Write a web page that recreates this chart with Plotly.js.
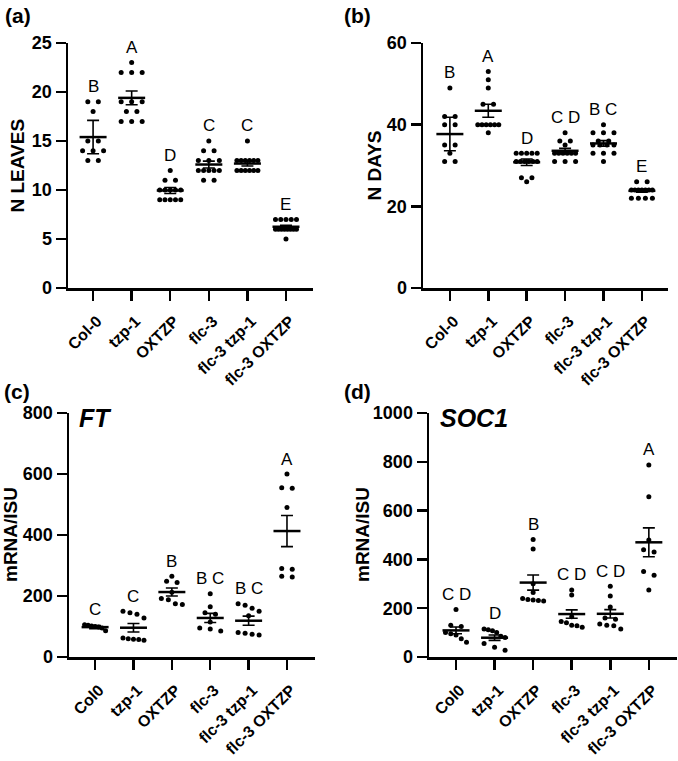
<!DOCTYPE html>
<html>
<head>
<meta charset="utf-8">
<script src="https://cdn.plot.ly/plotly-3.0.1.min.js"></script>
<style>
  html, body { margin: 0; padding: 0; background: #fff; }
  #chart { width: 678px; height: 761px; }
</style>
</head>
<body>
<div id="chart"></div>
<script>
// Genotype labels
const genotypesAB = ['Col-0', 'tzp-1', 'OXTZP', 'flc-3', 'flc-3 tzp-1', 'flc-3 OXTZP'];
const genotypesCD = ['Col0', 'tzp-1', 'OXTZP', 'flc-3', 'flc-3 tzp-1', 'flc-3 OXTZP'];

// (a) rosette leaf number at bolting
const leavesCol0 = [19, 19, 18, 15, 15, 14, 14, 14, 13, 13];
const leavesTzp1 = [23, 22, 22, 22, 19, 19, 19, 18, 18, 17, 17, 17];
const leavesOXTZP = [12, 11, 11, 10, 10, 10, 10, 10, 9, 9, 9, 9, 9];
const leavesFlc3 = [15, 14, 14, 13, 13, 13, 12, 12, 12, 12, 12, 11, 11];
const leavesFlc3Tzp1 = [15, 13, 13, 13, 13, 13, 13, 12, 12, 12, 12, 12, 12];
const leavesFlc3OXTZP = [7, 7, 7, 7, 7, 6, 6, 6, 6, 6, 6, 6, 6, 5];
const leavesMean = [15.4, 19.4, 9.95, 12.6, 12.7, 6.25];
const leavesErr = [1.7, 0.7, 0.3, 0.35, 0.25, 0.15];
const lettersLeaves = ['B', 'A', 'D', 'C', 'C', 'E'];

// (b) days to bolting
const daysCol0 = [49, 42, 42, 40, 40, 35, 35, 33, 31, 31];
const daysTzp1 = [53, 51, 49, 45, 45, 40, 40, 40, 40, 40, 40, 38];
const daysOXTZP = [33, 33, 33, 33, 33, 31, 31, 31, 31, 31, 31, 27, 27, 26];
const daysFlc3 = [38, 36, 36, 35, 33, 33, 33, 33, 33, 33, 31, 31, 31];
const daysFlc3Tzp1 = [40, 38, 38, 38, 36, 36, 35, 35, 35, 35, 33, 33, 33, 31];
const daysFlc3OXTZP = [26, 26, 24, 24, 24, 24, 24, 24, 24, 22, 22, 22, 22];
const daysMean = [37.7, 43.4, 30.8, 33.6, 35.4, 23.8];
const daysErr = [4.1, 1.6, 0.8, 0.6, 0.7, 0.35];
const lettersDays = ['B', 'A', 'D', 'C D', 'B C', 'E'];

// (c) FT transcript level
const ftCol0 = [106, 104, 102, 100, 98, 95, 86];
const ftTzp1 = [150, 145, 140, 128, 62, 60, 58, 57, 55];
const ftOXTZP = [265, 248, 244, 212, 192, 188, 175, 172];
const ftFlc3 = [207, 165, 145, 140, 115, 95, 92, 85];
const ftFlc3Tzp1 = [175, 170, 160, 150, 135, 80, 78, 75, 72];
const ftFlc3OXTZP = [600, 555, 553, 490, 290, 288, 265, 262];
const ftMean = [98, 96, 213, 128, 119, 413];
const ftErr = [5, 14, 13, 15, 15, 51];
const lettersFT = ['C', 'C', 'B', 'B C', 'B C', 'A'];

// (d) SOC1 transcript level
const socCol0 = [195, 130, 125, 100, 95, 90, 75, 60];
const socTzp1 = [115, 112, 108, 100, 85, 80, 55, 40, 28];
const socOXTZP = [482, 443, 300, 264, 240, 236, 234, 232, 230];
const socFlc3 = [275, 254, 165, 145, 140, 130, 128, 122];
const socFlc3Tzp1 = [290, 250, 205, 160, 155, 135, 130, 128, 115];
const socFlc3OXTZP = [787, 657, 480, 440, 430, 350, 335, 275];
const socMean = [109, 79, 305, 176, 177, 470];
const socErr = [14, 11, 31, 17, 17, 59];
const lettersSOC1 = ['C D', 'D', 'B', 'C D', 'C D', 'A'];

// ---------------------------------------------------------------------------
const W = 678, H = 761;
const FONT = 'Liberation Sans, Arial, Helvetica, sans-serif';
const bold = s => '<b>' + s + '</b>';

const panels = [
  { tag: '(a)', groups: [leavesCol0, leavesTzp1, leavesOXTZP, leavesFlc3, leavesFlc3Tzp1, leavesFlc3OXTZP],
    mean: leavesMean, err: leavesErr, letters: lettersLeaves, cats: genotypesAB,
    ytitle: 'N LEAVES', gene: null,
    box: { x0: 68, x1: 313, y0: 43, y1: 288 }, xr: [-0.65, 5.70], yr: [0, 25], dtick: 5,
    titleX: 17, tagX: 3, tagY: 16 },
  { tag: '(b)', groups: [daysCol0, daysTzp1, daysOXTZP, daysFlc3, daysFlc3Tzp1, daysFlc3OXTZP],
    mean: daysMean, err: daysErr, letters: lettersDays, cats: genotypesAB,
    ytitle: 'N DAYS', gene: null,
    box: { x0: 423, x1: 668, y0: 43, y1: 288 }, xr: [-0.70, 5.68], yr: [0, 60], dtick: 20,
    titleX: 374, tagX: 342, tagY: 16 },
  { tag: '(c)', groups: [ftCol0, ftTzp1, ftOXTZP, ftFlc3, ftFlc3Tzp1, ftFlc3OXTZP],
    mean: ftMean, err: ftErr, letters: lettersFT, cats: genotypesCD,
    ytitle: 'mRNA/ISU', gene: 'FT',
    box: { x0: 69, x1: 315, y0: 413, y1: 657 }, xr: [-0.68, 5.73], yr: [0, 800], dtick: 200,
    titleX: 10, tagX: 2, tagY: 391, geneX: 77 },
  { tag: '(d)', groups: [socCol0, socTzp1, socOXTZP, socFlc3, socFlc3Tzp1, socFlc3OXTZP],
    mean: socMean, err: socErr, letters: lettersSOC1, cats: genotypesCD,
    ytitle: 'mRNA/ISU', gene: 'SOC1',
    box: { x0: 429, x1: 677, y0: 413, y1: 657 }, xr: [-0.70, 5.73], yr: [0, 1000], dtick: 200,
    titleX: 362, tagX: 342, tagY: 391, geneX: 438 }
];

const px2x = px => px / W;
const py2y = py => 1 - py / H;

// Spread points that share (nearly) the same height side by side, column style
function swarm(vals, center, pxPerUnitY, pxPerCat) {
  const order = vals.map((v, i) => i).sort((a, b) => vals[b] - vals[a]);
  const clusters = [];
  let cur = [];
  order.forEach(i => {
    if (cur.length && (vals[cur[cur.length - 1]] - vals[i]) * pxPerUnitY > 4) {
      clusters.push(cur); cur = [];
    }
    cur.push(i);
  });
  if (cur.length) clusters.push(cur);
  const xs = new Array(vals.length);
  clusters.forEach(cl => {
    const k = cl.length;
    const step = k > 1 ? Math.min(10.5, 21 / (k - 1)) : 0;
    cl.forEach((i, j) => { xs[i] = center + ((j - (k - 1) / 2) * step) / pxPerCat; });
  });
  return xs;
}

const traces = [];
const layout = {
  width: W, height: H,
  margin: { l: 0, r: 0, t: 0, b: 0 },
  paper_bgcolor: '#fff', plot_bgcolor: 'rgba(0,0,0,0)',
  showlegend: false,
  font: { family: FONT, color: '#000' },
  annotations: []
};

panels.forEach((p, n) => {
  const k = n === 0 ? '' : String(n + 1);
  const xa = 'x' + k, ya = 'y' + k;
  const pxPerCat = (p.box.x1 - p.box.x0) / (p.xr[1] - p.xr[0]);
  const pxPerUnitY = (p.box.y1 - p.box.y0) / (p.yr[1] - p.yr[0]);

  // individual plants / replicates
  const dx = [], dy = [];
  p.groups.forEach((vals, g) => {
    const xs = swarm(vals, g, pxPerUnitY, pxPerCat);
    vals.forEach((v, i) => { dx.push(xs[i]); dy.push(v); });
  });
  traces.push({
    type: 'scatter', mode: 'markers', x: dx, y: dy, xaxis: xa, yaxis: ya,
    marker: { color: '#000', size: 5, line: { width: 0 } }, hoverinfo: 'skip', cliponaxis: false
  });

  // mean lines
  const mx = [], my = [];
  const half = 13.5 / pxPerCat;
  p.mean.forEach((m, g) => { mx.push(g - half, g + half, null); my.push(m, m, null); });
  traces.push({
    type: 'scatter', mode: 'lines', x: mx, y: my, xaxis: xa, yaxis: ya,
    line: { color: '#000', width: 2.5 }, hoverinfo: 'skip'
  });

  // error bars around the mean
  traces.push({
    type: 'scatter', mode: 'markers', x: p.mean.map((m, g) => g), y: p.mean, xaxis: xa, yaxis: ya,
    marker: { color: 'rgba(0,0,0,0)', size: 1 },
    error_y: { type: 'data', array: p.err, visible: true, color: '#000', thickness: 1.6, width: 6 },
    hoverinfo: 'skip'
  });

  const yticks = [];
  for (let v = p.yr[0]; v <= p.yr[1] + 1e-9; v += p.dtick) yticks.push(v);

  layout['xaxis' + k] = {
    domain: [px2x(p.box.x0), px2x(p.box.x1)], range: p.xr, anchor: ya,
    tickmode: 'array', tickvals: p.cats.map((c, i) => i), ticktext: p.cats.map(bold), tickangle: -45,
    ticklabelstandoff: 5, ticklabelshift: 4,
    showline: true, linecolor: '#000', linewidth: 2.5, mirror: false,
    ticks: 'outside', ticklen: 10, tickwidth: 2.5, tickcolor: '#000',
    showgrid: false, zeroline: false, automargin: false, fixedrange: true,
    tickfont: { family: FONT, size: 16, color: '#000' }
  };
  layout['yaxis' + k] = {
    domain: [py2y(p.box.y1), py2y(p.box.y0)], range: p.yr, anchor: xa,
    tickmode: 'array', tickvals: yticks, ticktext: yticks.map(v => bold(String(v))),
    showline: true, linecolor: '#000', linewidth: 2.5,
    ticks: 'outside', ticklen: 10, tickwidth: 2.5, tickcolor: '#000',
    showgrid: false, zeroline: false, automargin: false, fixedrange: true,
    tickfont: { family: FONT, size: 18, color: '#000' }
  };

  // significance letters above each group
  p.letters.forEach((t, g) => {
    layout.annotations.push({
      xref: xa, yref: ya, x: g, y: Math.max(...p.groups[g]), yshift: 15,
      text: t, showarrow: false, xanchor: 'center', yanchor: 'middle',
      font: { family: FONT, size: 17, color: '#000' }
    });
  });

  // axis title
  layout.annotations.push({
    xref: 'paper', yref: 'paper', x: px2x(p.titleX), y: py2y((p.box.y0 + p.box.y1) / 2),
    text: bold(p.ytitle), textangle: -90, showarrow: false, xanchor: 'center', yanchor: 'middle',
    font: { family: FONT, size: 19, color: '#000' }
  });

  // panel tag
  layout.annotations.push({
    xref: 'paper', yref: 'paper', x: px2x(p.tagX), y: py2y(p.tagY),
    text: bold(p.tag), showarrow: false, xanchor: 'left', yanchor: 'middle',
    font: { family: FONT, size: 21, color: '#000' }
  });

  // gene name
  if (p.gene) {
    layout.annotations.push({
      xref: 'paper', yref: 'paper', x: px2x(p.geneX), y: py2y(418),
      text: '<b><i>' + p.gene + '</i></b>', showarrow: false, xanchor: 'left', yanchor: 'middle',
      font: { family: FONT, size: 25, color: '#000' }
    });
  }
});

Plotly.newPlot('chart', traces, layout, { staticPlot: true, displayModeBar: false });
</script>
</body>
</html>
